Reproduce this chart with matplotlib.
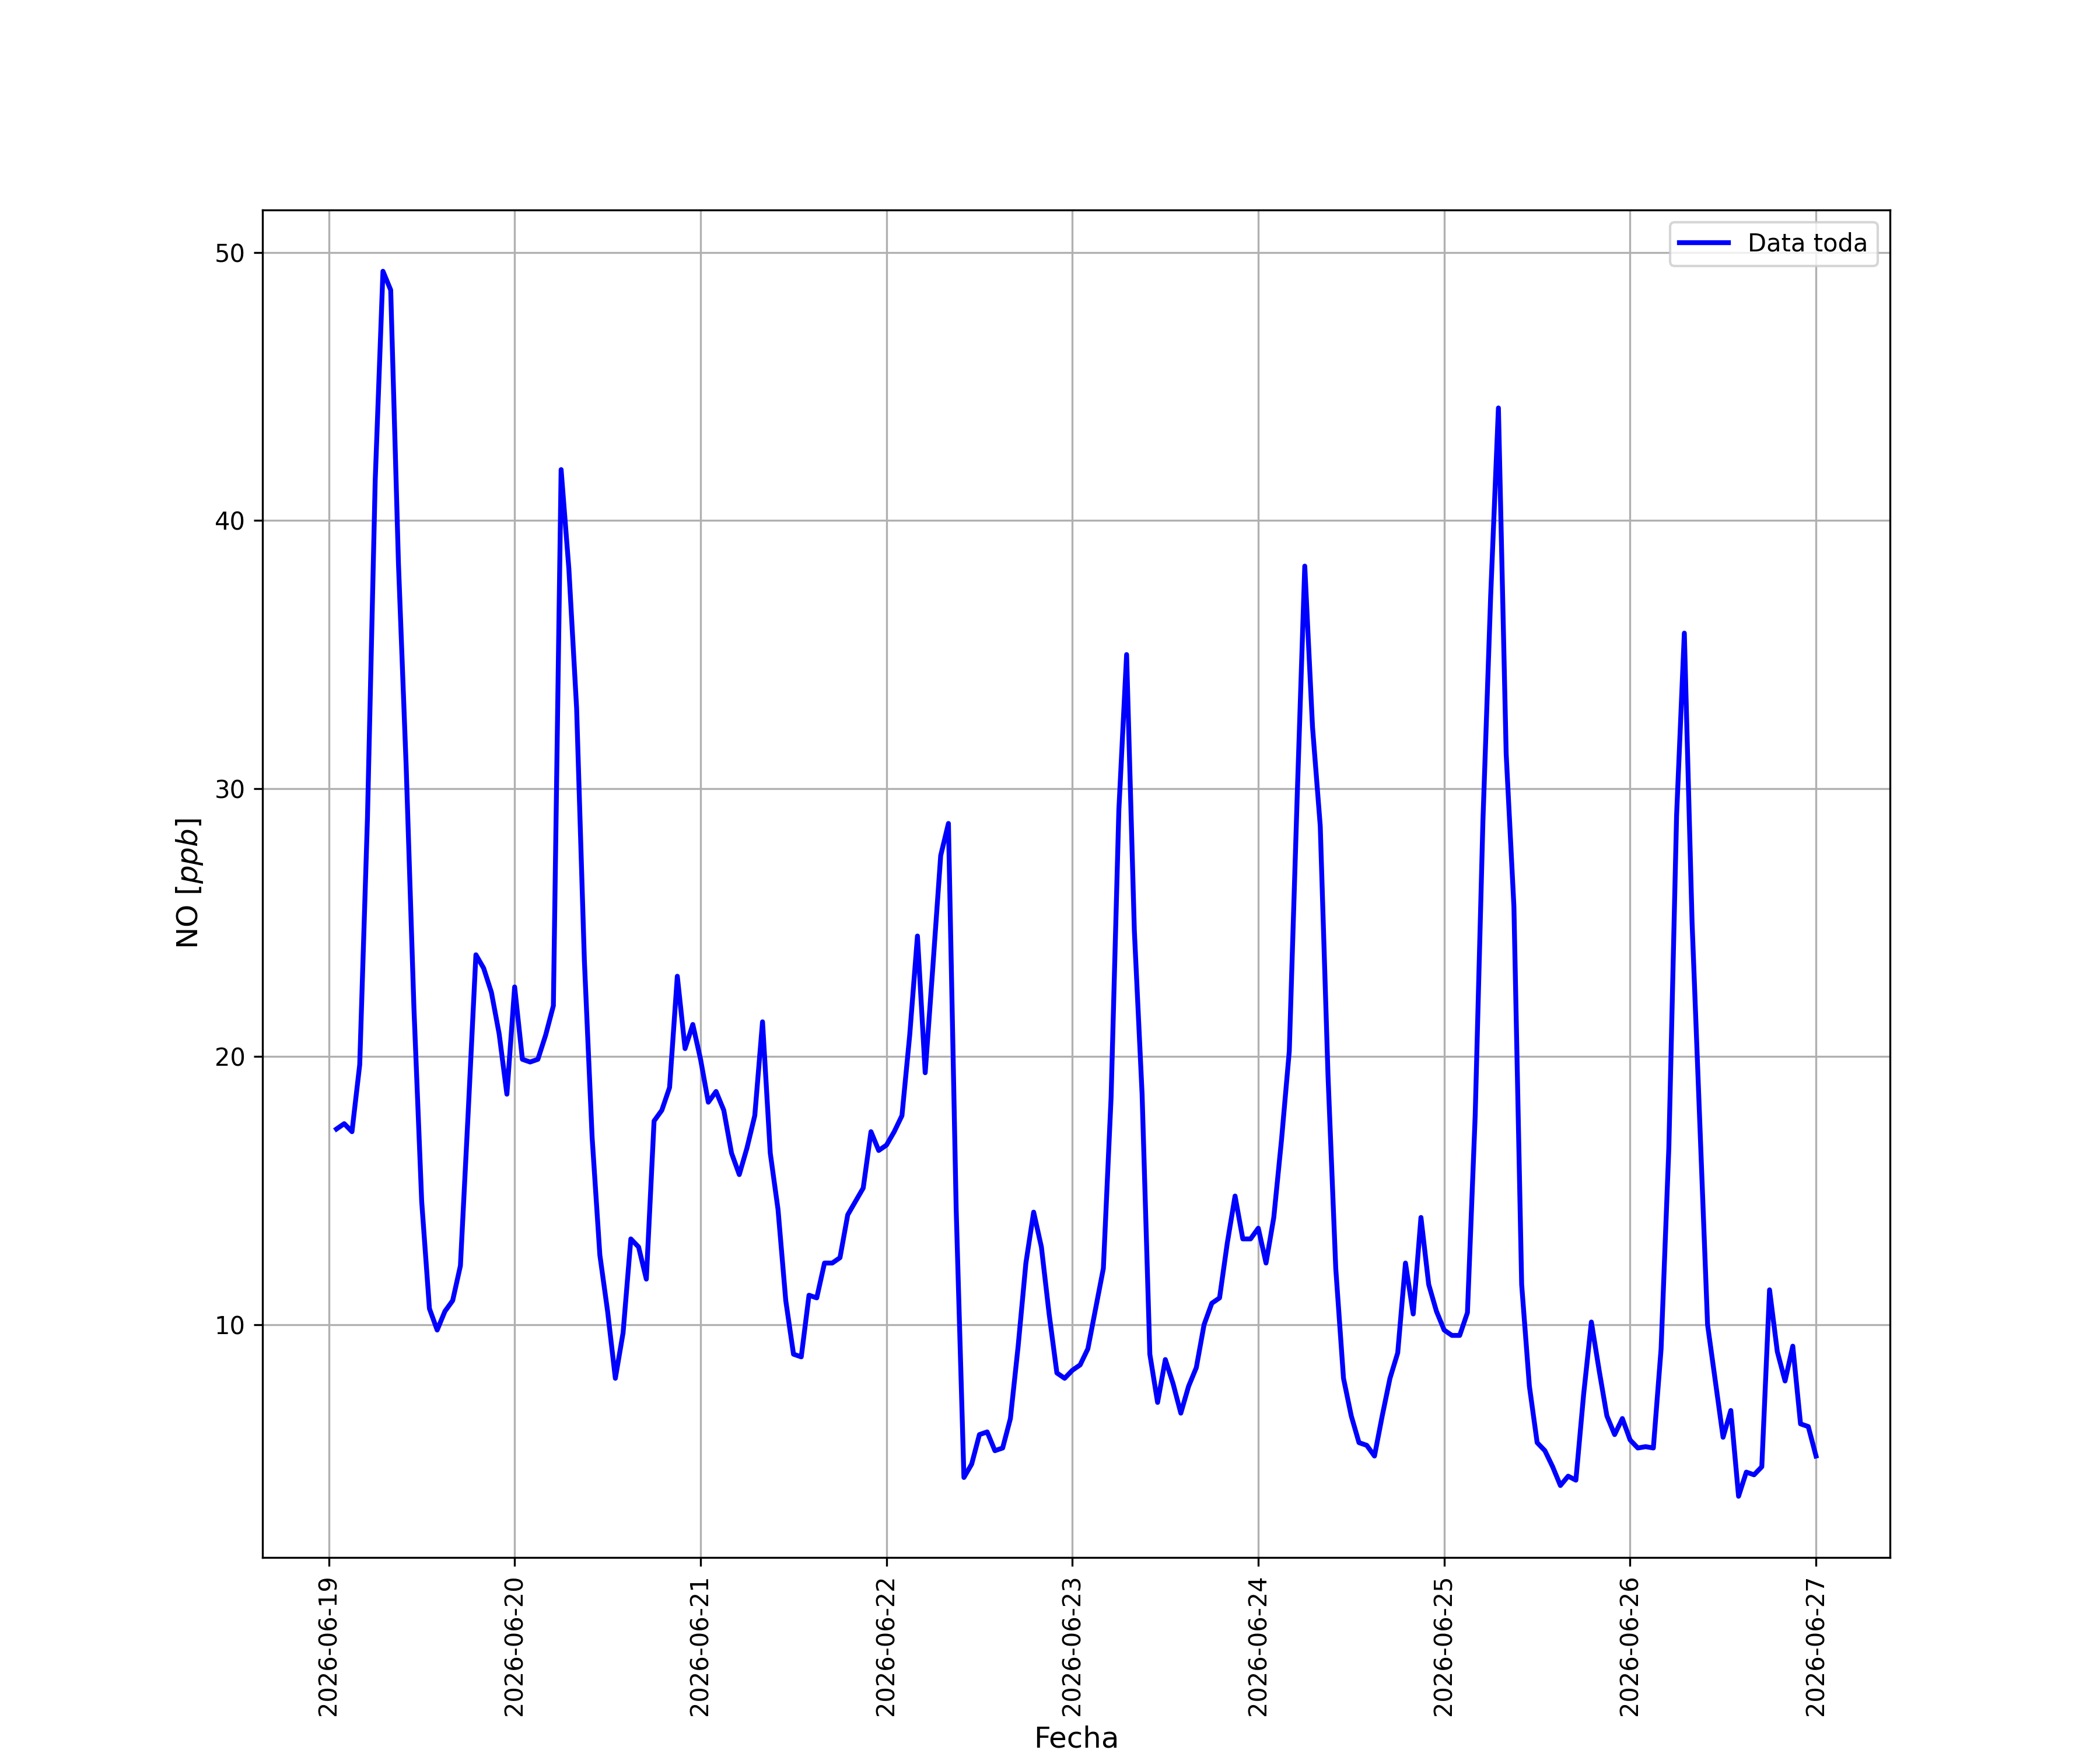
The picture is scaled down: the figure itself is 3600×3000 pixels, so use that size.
import numpy as np
import pandas as pd
import matplotlib
matplotlib.use("Agg")
import matplotlib.pyplot as plt
import matplotlib.dates as mdates

# hourly NO readings, 2026-06-19 01:00 .. 2026-06-27 00:00
start = "2026-06-19 01:00"
day_19 = [17.3, 17.5, 17.2, 19.7, 28.9, 41.5, 49.3, 48.6, 38.4, 30.8, 21.8, 14.6,
          10.6, 9.8, 10.5, 10.9, 12.2, 17.9, 23.8, 23.3, 22.4, 20.85, 18.6]
day_20 = [22.6, 19.9, 19.8, 19.9, 20.8, 21.9, 41.9, 38.2, 33.0, 23.6, 17.0, 12.6,
          10.5, 8.0, 9.7, 13.2, 12.9, 11.7, 17.6, 18.0, 18.85, 23.0, 20.3, 21.2]
day_21 = [19.9, 18.3, 18.7, 18.0, 16.4, 15.6, 16.6, 17.8, 21.3, 16.4, 14.3, 10.9,
          8.9, 8.8, 11.1, 11.0, 12.3, 12.3, 12.5, 14.1, 14.6, 15.1, 17.2, 16.5]
day_22 = [16.7, 17.2, 17.8, 20.8, 24.5, 19.4, 23.4, 27.5, 28.7, 14.3, 4.3, 4.8,
          5.9, 6.0, 5.3, 5.4, 6.5, 9.2, 12.3, 14.2, 12.9, 10.4, 8.2, 8.0]
day_23 = [8.3, 8.5, 9.1, 10.6, 12.1, 18.5, 29.2, 35.0, 24.7, 18.6, 8.9, 7.1,
          8.7, 7.8, 6.7, 7.7, 8.4, 10.0, 10.8, 11.0, 13.05, 14.8, 13.2, 13.2]
day_24 = [13.6, 12.3, 14.0, 16.9, 20.2, 29.5, 38.3, 32.3, 28.6, 19.3, 12.1, 8.0,
          6.6, 5.6, 5.5, 5.1, 6.6, 8.0, 8.95, 12.3, 10.4, 14.0, 11.5, 10.5]
day_25 = [9.8, 9.6, 9.6, 10.45, 17.8, 28.8, 37.2, 44.2, 31.3, 25.6, 11.5, 7.7,
          5.6, 5.3, 4.7, 4.0, 4.35, 4.2, 7.4, 10.1, 8.3, 6.6, 5.9, 6.5]
day_26 = [5.7, 5.4, 5.45, 5.4, 9.1, 16.6, 29.0, 35.8, 25.0, 17.5, 10.0, 7.9,
          5.8, 6.8, 3.6, 4.5, 4.4, 4.7, 11.3, 9.0, 7.9, 9.2, 6.3, 6.2]
day_27 = [5.1]

no_ppb = np.array(day_19 + day_20 + day_21 + day_22 + day_23 + day_24 + day_25 + day_26 + day_27)
fechas = pd.date_range(start, periods=len(no_ppb), freq="h")

fig, ax = plt.subplots(figsize=(12, 10))
ax.plot(fechas, no_ppb, c="blue", lw=2, label="Data toda")
ax.xaxis.set_major_locator(mdates.DayLocator())
ax.xaxis.set_major_formatter(mdates.DateFormatter("%Y-%m-%d"))
plt.setp(ax.get_xticklabels(), rotation=90)
ax.set_xlabel("Fecha", fontsize=12)
ax.set_ylabel("NO [$ppb$]", fontsize=12)
ax.grid(True)
ax.legend(loc="upper right")
fig.savefig("out.png", dpi=300)
